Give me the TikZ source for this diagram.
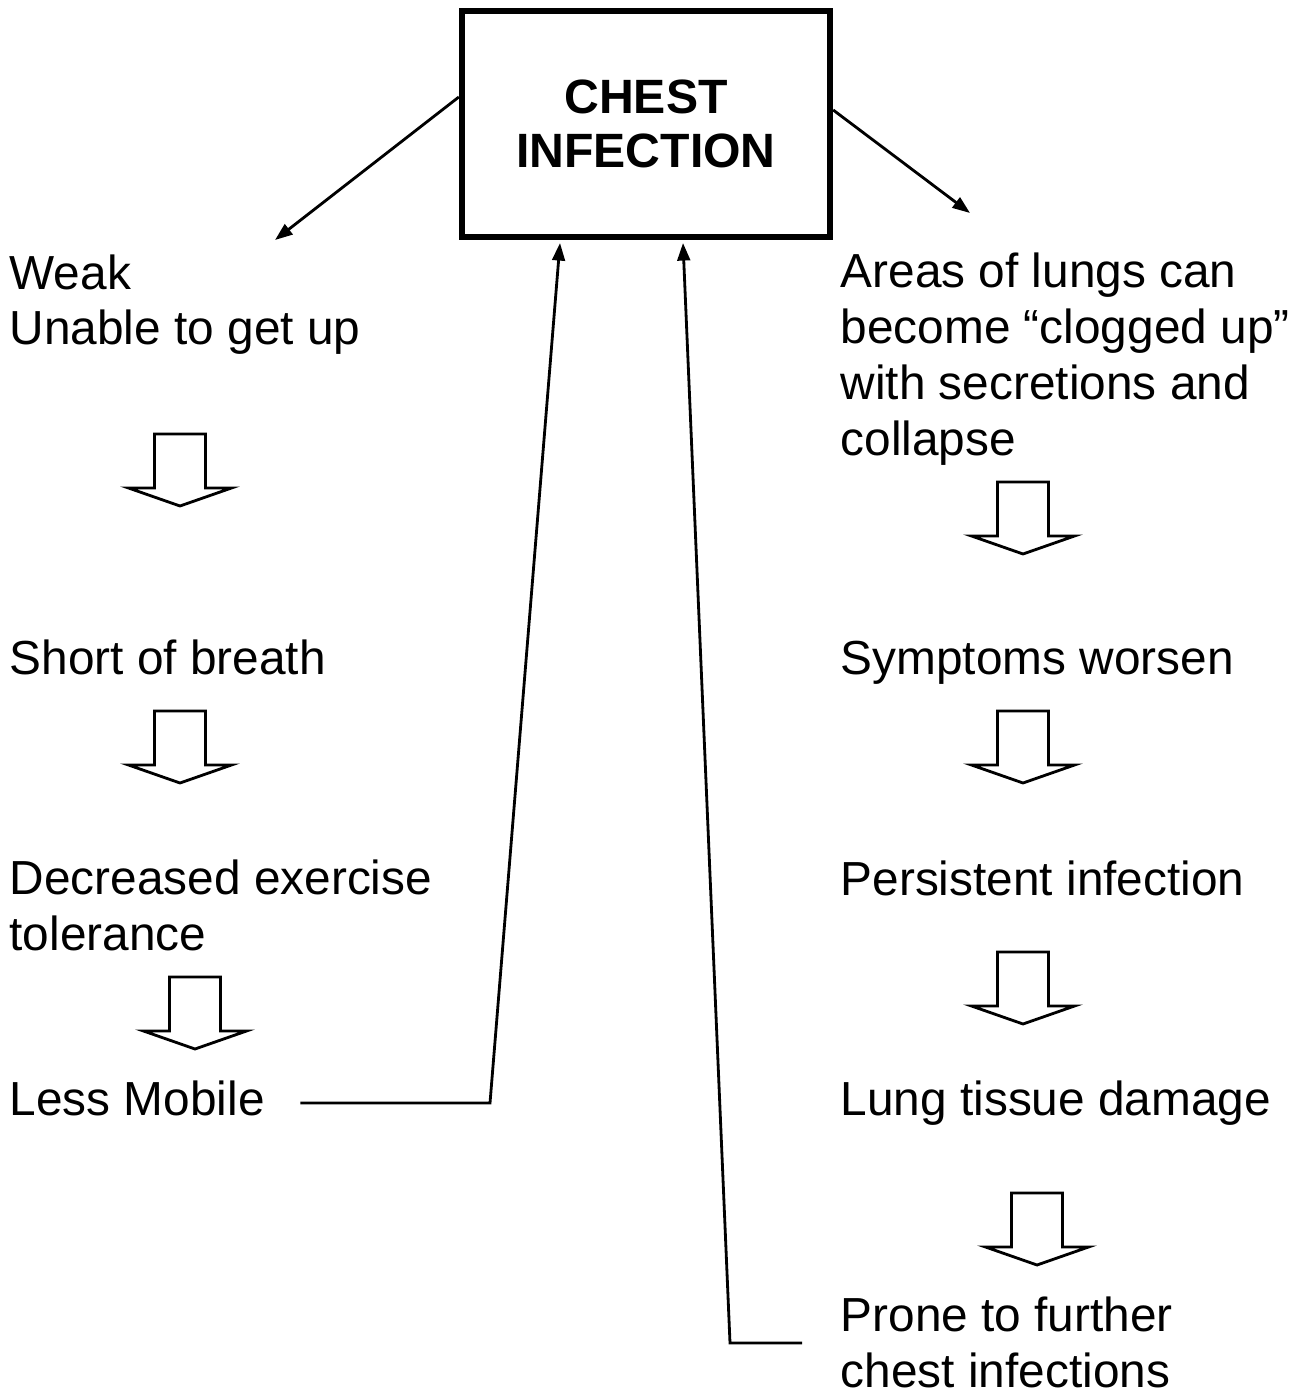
\documentclass[tikz,border=0pt]{standalone}
\usepackage{fontspec}
\setmainfont{Liberation Sans}
\usetikzlibrary{arrows.meta,positioning,calc}

\begin{document}
\begin{tikzpicture}[
  every node/.style={font=\fontsize{13.6}{15.9}\selectfont, inner sep=0pt},
  step text/.style={anchor=base west, align=left},
  link/.style={->, line width=0.8pt},
  hollow down/.style={draw, line width=0.8pt, line join=miter},
  >={Triangle[length=5pt,width=3.6pt]}
]
\useasboundingbox (0,0) rectangle (13.03,-13.92);

% The central box
\node[draw, line width=1.8pt, minimum width=3.68cm, minimum height=2.26cm,
      align=center, font=\bfseries\fontsize{13.7}{15.6}\selectfont]
  (infection) at (6.46,-1.24) {CHEST\\INFECTION};

% Left column (anchor = baseline of the last line)
\node[step text] (weak) at (0.09,-3.45) {Weak\\Unable to get up};
\node[step text] (breath) at (0.09,-6.74) {Short of breath};
\node[step text] (exercise) at (0.09,-9.50) {Decreased exercise\\tolerance};
\node[step text] (lessmob) at (0.09,-11.15) {Less Mobile};

% Right column
\node[step text] (areas) at (8.40,-4.55)
  {Areas of lungs can\\become “clogged up”\\with secretions and\\collapse};
\node[step text] (worsen) at (8.40,-6.74) {Symptoms worsen};
\node[step text] (persist) at (8.40,-8.95) {Persistent infection};
\node[step text] (damage) at (8.40,-11.15) {Lung tissue damage};
\node[step text] (prone) at (8.40,-13.87) {Prone to further\\chest infections};

% Hollow block arrows (tip x / tip y)
\foreach \tx/\ty in {1.80/-5.06, 1.80/-7.83, 1.95/-10.49,
                     10.23/-5.54, 10.23/-7.83, 10.23/-10.24, 10.37/-12.65}
  \draw[hollow down] (\tx-0.255,\ty+0.72) -- (\tx+0.255,\ty+0.72)
    -- (\tx+0.255,\ty+0.18) -- (\tx+0.515,\ty+0.18) -- (\tx,\ty)
    -- (\tx-0.515,\ty+0.18) -- (\tx-0.255,\ty+0.18) -- cycle;

% Connectors
\coordinate (weakend) at (2.75,-2.40);
\coordinate (areasend) at (9.70,-2.13);
\coordinate (lessfoot) at (4.90,-11.03);
\coordinate (lesstip) at (5.60,-2.43);
\coordinate (pronestart) at (8.02,-13.43);
\coordinate (pronefoot) at (7.30,-13.43);
\coordinate (pronetip) at (6.83,-2.43);

\draw[link] ([yshift=2.7mm]infection.west) -- (weakend);
\draw[link] ([yshift=1.4mm]infection.east) -- (areasend);
\draw[link] ([xshift=3.5mm]lessmob.east |- lessfoot) -- (lessfoot) -- (lesstip);
\draw[link] (pronestart) -- (pronefoot) -- (pronetip);

\end{tikzpicture}
\end{document}
